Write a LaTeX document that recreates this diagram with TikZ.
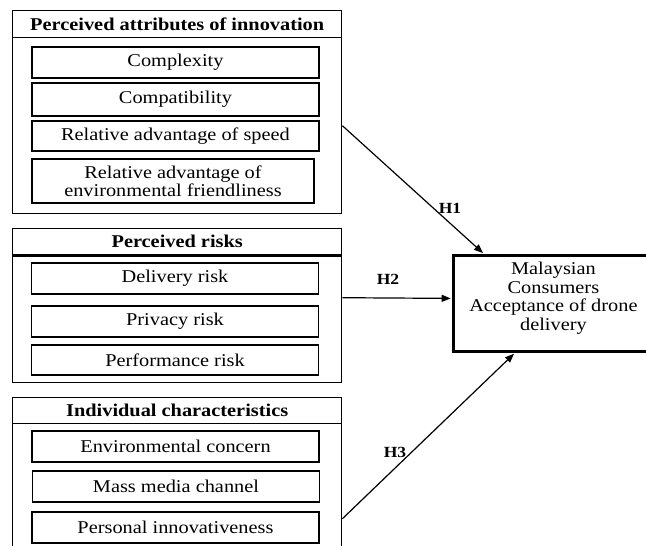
\documentclass[tikz,border=0pt]{standalone}
\usepackage{fontspec}
\setmainfont[FakeStretch=1.13]{Liberation Serif}
\usetikzlibrary{arrows.meta,positioning}
\definecolor{ink}{RGB}{0,0,0}
\tikzset{
  >={Triangle[length=9pt,width=7pt]},
  head/.style={draw=ink,line width=1.4pt,minimum width=329pt,minimum height=#1,inner sep=0pt,
    anchor=north west,font=\fontsize{18}{18.5}\selectfont\bfseries},
  head/.default=26pt,
  frame/.style={draw=ink,line width=1.4pt,minimum width=329pt,minimum height=#1,inner sep=0pt,
    anchor=north west},
  item/.style={draw=ink,line width=1.4pt,minimum width=287pt,minimum height=#1,inner sep=0pt,
    align=center,font=\fontsize{18}{18.5}\selectfont},
  item/.default=31pt,
  goal/.style={draw=ink,line width=2.8pt,minimum width=200pt,minimum height=96pt,inner sep=0pt,
    anchor=north west},
  hyp/.style={font=\fontsize{15.5}{18}\selectfont\bfseries,inner sep=0pt},
  flow/.style={->,line width=1.2pt,draw=ink},
}
\begin{document}
\begin{tikzpicture}[x=1pt,y=-1pt]
  \useasboundingbox (0,0) rectangle (646,546);
  % perceived attributes of innovation
  \node[frame=176pt] (pai) at (12,37) {};
  \node[head=27pt] (pait) at (12,10) {Perceived attributes of innovation};
  \node[item] (cx) at (175.5,62.5) {Complexity};
  \node[item=33pt] (cp) at (175.5,99.5) {Compatibility};
  \node[item=30pt] (sp) at (175.5,136) {Relative advantage of speed};
  \node[item=44pt,minimum width=282pt] (ef) at (173,181) {Relative advantage of\\environmental friendliness};
  % perceived risks
  \node[frame=128pt] (pr) at (12,254) {};
  \node[head] (prt) at (12,228) {Perceived risks};
  \draw[ink,line width=2.4pt] (prt.south west) -- (prt.south east);
  \node[item] (dr) at (175,278.5) {Delivery risk};
  \node[item] (pv) at (175,321.5) {Privacy risk};
  \node[item=30pt] (pf) at (175,360) {Performance risk};
  % individual characteristics
  \node[frame=137pt] (ic) at (12,423) {};
  \node[head] (ict) at (12,397) {Individual characteristics};
  \node[item] (ec) at (175.5,446.5) {Environmental concern};
  \node[item] (mm) at (176,486.5) {Mass media channel};
  \node[item] (pi) at (175.5,527.5) {Personal innovativeness};
  % outcome
  \node[goal] (tgt) at (452,254) {};
  \node[align=center,inner sep=0pt,font=\fontsize{18}{18.5}\selectfont] (tgtl) at ([yshift=5pt]tgt.center)
    {Malaysian\\Consumers\\Acceptance of drone\\delivery};
  \draw[flow,shorten >=1.4pt] (pai.east) -- ([xshift=32pt]tgt.north west);
  \draw[flow,shorten >=1.4pt] ([yshift=21pt]pr.east) -- ([yshift=5pt]tgt.west);
  \draw[flow,shorten >=1.4pt] ([yshift=-26.5pt]ic.east) -- ([xshift=63pt]tgt.south west);
  \node[hyp] (h1) at (450,208) {H1};
  \node[hyp] (h2) at (388,279) {H2};
  \node[hyp] (h3) at (395,452) {H3};
\end{tikzpicture}
\end{document}
